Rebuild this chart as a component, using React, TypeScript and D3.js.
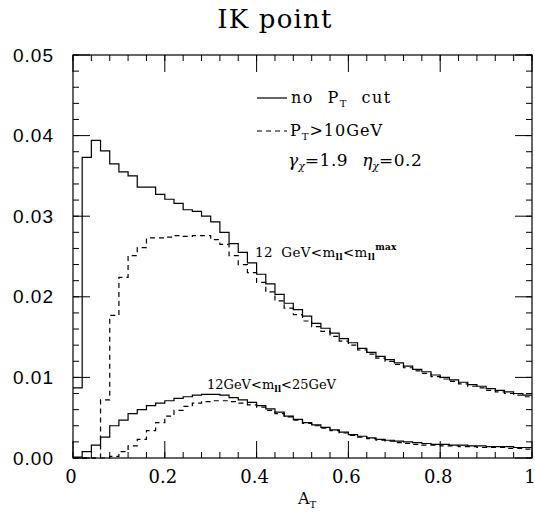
import React from 'react';
import * as d3 from 'd3';

// A_T histogram, bin width 0.02, 50 bins from 0 to 1
const binWidth = 0.02;

const noCutAll = [
  0.0087, 0.0373, 0.0394, 0.0381, 0.0365, 0.0355, 0.0350, 0.0336, 0.0336, 0.0327,
  0.0321, 0.0316, 0.0308, 0.0306, 0.0300, 0.0293, 0.0280, 0.0266, 0.0255, 0.0242,
  0.0228, 0.0216, 0.0203, 0.0192, 0.0184, 0.0176, 0.0167, 0.0161, 0.0155, 0.0148,
  0.0143, 0.0136, 0.0131, 0.0126, 0.0122, 0.0118, 0.0114, 0.0110, 0.0107, 0.0103,
  0.0100, 0.0097, 0.0094, 0.0091, 0.0089, 0.0086, 0.0084, 0.0082, 0.0080, 0.0078,
];

const ptCutAll = [
  0, 0, 0, 0.0072, 0.0177, 0.0224, 0.0251, 0.0261, 0.0273, 0.0273,
  0.0274, 0.0276, 0.0275, 0.0276, 0.0276, 0.0271, 0.0265, 0.0251, 0.0240, 0.0230,
  0.0218, 0.0206, 0.0195, 0.0186, 0.0178, 0.0170, 0.0163, 0.0157, 0.0151, 0.0145,
  0.0140, 0.0134, 0.0129, 0.0124, 0.0120, 0.0116, 0.0112, 0.0108, 0.0105, 0.0101,
  0.0098, 0.0095, 0.0092, 0.0089, 0.0087, 0.0084, 0.0082, 0.0080, 0.0078, 0.0076,
];

const noCutLow = [
  0.0001, 0.0008, 0.0016, 0.0026, 0.0040, 0.0047, 0.0055, 0.0060, 0.0065, 0.0068,
  0.0071, 0.0074, 0.0076, 0.0078, 0.0079, 0.0079, 0.0078, 0.0075, 0.0072, 0.0069,
  0.0065, 0.0061, 0.0057, 0.0052, 0.0048, 0.0044, 0.0041, 0.0038, 0.0035, 0.0032,
  0.0029, 0.0027, 0.0025, 0.0023, 0.0022, 0.0021, 0.0020, 0.0019, 0.0018, 0.0017,
  0.0017, 0.0016, 0.0016, 0.0015, 0.0015, 0.0014, 0.0014, 0.0014, 0.0013, 0.0013,
];

const ptCutLow = [
  0, 0, 0, 0, 0.0002, 0.0008, 0.0015, 0.0023, 0.0034, 0.0044,
  0.0052, 0.0059, 0.0064, 0.0068, 0.0070, 0.0071, 0.0071, 0.0070, 0.0068, 0.0066,
  0.0063, 0.0059, 0.0055, 0.0051, 0.0047, 0.0043, 0.0040, 0.0037, 0.0034, 0.0031,
  0.0028, 0.0026, 0.0024, 0.0022, 0.0021, 0.0019, 0.0018, 0.0017, 0.0016, 0.0016,
  0.0015, 0.0015, 0.0014, 0.0014, 0.0013, 0.0013, 0.0013, 0.0012, 0.0012, 0.0011,
];

const xMajorTicks = [0, 0.2, 0.4, 0.6, 0.8, 1];
const xTickLabels = ['0', '0.2', '0.4', '0.6', '0.8', '1'];
const xMinorStep = 0.04;
const yMajorTicks = [0, 0.01, 0.02, 0.03, 0.04, 0.05];
const yTickLabels = ['0.00', '0.01', '0.02', '0.03', '0.04', '0.05'];
const yMinorStep = 0.002;

const W = 535;
const H = 514;
const L = 73, R = 532, T = 55, B = 458;

const serif = 'DejaVu Serif';
const sans = 'Liberation Sans';

function stepPath(vals: number[], x: d3.ScaleLinear<number, number>, y: d3.ScaleLinear<number, number>) {
  const pts: [number, number][] = vals.map((v, i) => [i * binWidth, v]);
  pts.push([vals.length * binWidth, vals[vals.length - 1]]);
  const line = d3.line<[number, number]>()
    .x(d => x(d[0]))
    .y(d => y(d[1]))
    .curve(d3.curveStepAfter);
  return line(pts) || '';
}

export default function App() {
  const x = d3.scaleLinear().domain([0, 1]).range([L, R]);
  const y = d3.scaleLinear().domain([0, 0.05]).range([B, T]);

  const xMinor = d3.range(0, 1.0001, xMinorStep);
  const yMinor = d3.range(0, 0.05001, yMinorStep);
  const majLen = 17;
  const minLen = 6;

  const dash = '5,4';

  return (
    <svg width={W} height={H} style={{ position: 'absolute', left: 0, top: 0, background: '#fff' }}>
      <rect x={0} y={0} width={W} height={H} fill="#fff" />
      {/* title */}
      <text x={275} y={28} fontFamily={serif} fontSize={26} letterSpacing={1.2} textAnchor="middle" fill="#000">IK point</text>

      {/* frame */}
      <rect x={L} y={T} width={R - L} height={B - T} fill="none" stroke="#000" strokeWidth={1.2} />

      {/* ticks */}
      <g stroke="#000" strokeWidth={1}>
        {xMinor.map((v, i) => (
          <g key={'xm' + i}>
            <line x1={x(v)} x2={x(v)} y1={B} y2={B - minLen} />
            <line x1={x(v)} x2={x(v)} y1={T} y2={T + minLen} />
          </g>
        ))}
        {xMajorTicks.map((v, i) => (
          <g key={'xM' + i}>
            <line x1={x(v)} x2={x(v)} y1={B} y2={B - majLen} />
            <line x1={x(v)} x2={x(v)} y1={T} y2={T + majLen} />
          </g>
        ))}
        {yMinor.map((v, i) => (
          <g key={'ym' + i}>
            <line x1={L} x2={L + minLen} y1={y(v)} y2={y(v)} />
            <line x1={R} x2={R - minLen} y1={y(v)} y2={y(v)} />
          </g>
        ))}
        {yMajorTicks.map((v, i) => (
          <g key={'yM' + i}>
            <line x1={L} x2={L + majLen} y1={y(v)} y2={y(v)} />
            <line x1={R} x2={R - majLen} y1={y(v)} y2={y(v)} />
          </g>
        ))}
      </g>

      {/* tick labels */}
      {xMajorTicks.map((v, i) => (
        <text key={'xl' + i} x={x(v) - 2} y={483} fontFamily={serif} fontSize={18} textAnchor="middle" fill="#000">
          {xTickLabels[i]}
        </text>
      ))}
      {yMajorTicks.map((v, i) => (
        <text key={'yl' + i} x={54} y={y(v) + 6.5} fontFamily={sans} fontSize={19} letterSpacing={1} textAnchor="end" fill="#000">
          {yTickLabels[i]}
        </text>
      ))}

      {/* axis title */}
      <text x={298} y={504} fontFamily={serif} fontSize={16} fill="#000">
        A<tspan fontSize={10} dy={4}>T</tspan>
      </text>

      {/* curves */}
      <g fill="none" stroke="#000" strokeWidth={1.2}>
        <path d={stepPath(noCutAll, x, y)} />
        <path d={stepPath(ptCutAll, x, y)} strokeDasharray={dash} />
        <path d={stepPath(noCutLow, x, y)} />
        <path d={stepPath(ptCutLow, x, y)} strokeDasharray={dash} />
      </g>

      {/* legend */}
      <line x1={257} x2={287} y1={98} y2={98} stroke="#000" strokeWidth={1.2} />
      <text x={291} y={103} fontFamily={serif} fontSize={16} letterSpacing={1.5} wordSpacing={7} fill="#000">
        no P<tspan fontSize={10} dy={4}>T</tspan><tspan dy={-4}> cut</tspan>
      </text>
      <line x1={257} x2={287} y1={131} y2={131} stroke="#000" strokeWidth={1.2} strokeDasharray={dash} />
      <text x={290} y={136} fontFamily={serif} fontSize={16} letterSpacing={1} fill="#000">
        P<tspan fontSize={10} dy={4}>T</tspan><tspan dy={-4}>&gt;10GeV</tspan>
      </text>
      <text x={288} y={166} fontFamily={serif} fontSize={17} fill="#000">
        <tspan fontStyle="italic">γ</tspan><tspan fontSize={11} dy={4} fontStyle="italic">χ</tspan>
        <tspan dy={-4} letterSpacing={0.5}>=1.9</tspan>
        <tspan fontStyle="italic" dx={14}>η</tspan><tspan fontSize={11} dy={4} fontStyle="italic">χ</tspan>
        <tspan dy={-4} letterSpacing={0.5}>=0.2</tspan>
      </text>

      {/* annotations */}
      <text x={255} y={257} fontFamily={serif} fontSize={13.5} wordSpacing={4} letterSpacing={0.3} fill="#000">
        12 GeV&lt;m<tspan fontSize={9} fontWeight="bold" dy={3}>ll</tspan><tspan dy={-3}>&lt;m</tspan><tspan fontSize={9} fontWeight="bold" dy={3}>ll</tspan><tspan fontSize={9} fontWeight="bold" dy={-10}>max</tspan>
      </text>
      <text x={207} y={389} fontFamily={serif} fontSize={13} fill="#000">
        12GeV&lt;m<tspan fontSize={9} fontWeight="bold" dy={3}>ll</tspan><tspan dy={-3}>&lt;25GeV</tspan>
      </text>
    </svg>
  );
}
